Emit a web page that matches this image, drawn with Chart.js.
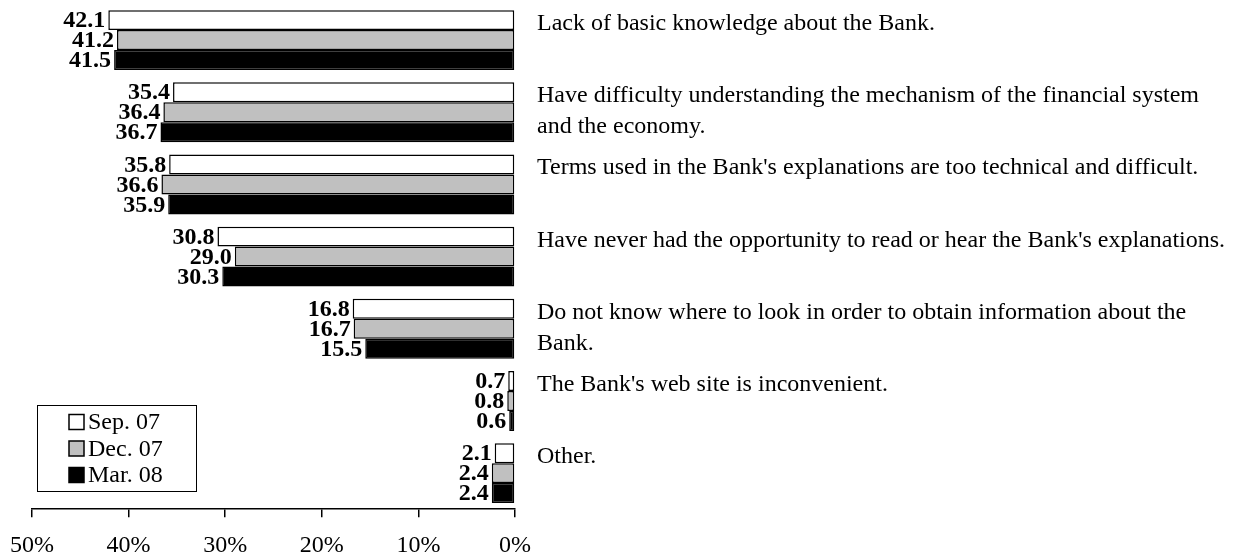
<!DOCTYPE html>
<html>
<head>
<meta charset="utf-8">
<script src="https://cdn.jsdelivr.net/npm/chart.js@4"></script>
<style>
  html, body { margin: 0; padding: 0; background: #fff; }
  #wrap { width: 1242px; height: 559px; position: relative; }
</style>
</head>
<body>
<div id="wrap"><canvas id="chart"></canvas></div>
<script>
const categories = [
  ['Lack of basic knowledge about the Bank.'],
  ['Have difficulty understanding the mechanism of the financial system', 'and the economy.'],
  ["Terms used in the Bank's explanations are too technical and difficult."],
  ["Have never had the opportunity to read or hear the Bank's explanations."],
  ['Do not know where to look in order to obtain information about the', 'Bank.'],
  ["The Bank's web site is inconvenient."],
  ['Other.']
];
const seriesNames = ['Sep. 07', 'Dec. 07', 'Mar. 08'];
const sep07 = [42.1, 35.4, 35.8, 30.8, 16.8, 0.7, 2.1];
const dec07 = [41.2, 36.4, 36.6, 29.0, 16.7, 0.8, 2.4];
const mar08 = [41.5, 36.7, 35.9, 30.3, 15.5, 0.6, 2.4];
const xTicks = [0, 10, 20, 30, 40, 50];

const serif = '"Liberation Serif", "Times New Roman", serif';

// bold numbers just left of each bar end
const valueLabels = {
  id: 'valueLabels',
  afterDatasetsDraw(chart) {
    const ctx = chart.ctx;
    ctx.save();
    ctx.font = 'bold 24px ' + serif;
    ctx.fillStyle = '#000';
    ctx.textAlign = 'right';
    ctx.textBaseline = 'middle';
    chart.data.datasets.forEach((ds, di) => {
      chart.getDatasetMeta(di).data.forEach((bar, i) => {
        ctx.fillText(ds.data[i].toFixed(1), bar.x - 3, bar.y + 1);
      });
    });
    ctx.restore();
  }
};

// category text to the right of the plot
const categoryLabels = {
  id: 'categoryLabels',
  afterDraw(chart) {
    const ctx = chart.ctx;
    const y = chart.scales.y;
    ctx.save();
    ctx.font = '24px ' + serif;
    ctx.fillStyle = '#000';
    ctx.textAlign = 'left';
    ctx.textBaseline = 'alphabetic';
    chart.data.labels.forEach((lines, i) => {
      const top = y.getPixelForValue(i) - 10;
      lines.forEach((line, k) => {
        ctx.fillText(line, chart.chartArea.right + 22, top + k * 31);
      });
    });
    ctx.restore();
  }
};

// boxed legend in the lower left
const boxLegend = {
  id: 'boxLegend',
  afterDraw(chart) {
    const ctx = chart.ctx;
    ctx.save();
    ctx.lineWidth = 1;
    ctx.strokeStyle = '#000';
    ctx.strokeRect(37.5, 405.5, 159, 86);
    ctx.font = '24px ' + serif;
    ctx.textBaseline = 'middle';
    chart.data.datasets.forEach((ds, i) => {
      const cy = 422 + i * 26.5;
      ctx.fillStyle = ds.backgroundColor;
      ctx.fillRect(69, cy - 7.5, 15, 15);
      ctx.lineWidth = 1.5;
      ctx.strokeRect(69, cy - 7.5, 15, 15);
      ctx.fillStyle = '#000';
      ctx.fillText(ds.label, 88, cy + 1);
    });
    ctx.restore();
  }
};

const barStyle = { borderColor: '#000', borderWidth: 1.5, borderSkipped: false, categoryPercentage: 0.83, barPercentage: 1.0 };

new Chart(document.getElementById('chart'), {
  type: 'bar',
  data: {
    labels: categories,
    datasets: [
      { label: seriesNames[0], data: sep07, backgroundColor: '#ffffff', ...barStyle },
      { label: seriesNames[1], data: dec07, backgroundColor: '#c0c0c0', ...barStyle },
      { label: seriesNames[2], data: mar08, backgroundColor: '#000000', ...barStyle }
    ]
  },
  options: {
    indexAxis: 'y',
    responsive: true,
    maintainAspectRatio: false,
    animation: false,
    layout: { padding: { left: 32, right: 727, top: 4, bottom: -15 } },
    plugins: {
      legend: { display: false },
      tooltip: { enabled: false }
    },
    scales: {
      x: {
        reverse: true,
        min: 0,
        max: 50,
        afterBuildTicks(scale) { scale.ticks = xTicks.map(v => ({ value: v })); },
        grid: { drawOnChartArea: false, drawTicks: true, tickLength: 8, color: '#000', lineWidth: 1.5 },
        border: { display: true, color: '#000', width: 1.5 },
        ticks: {
          color: '#000',
          padding: 14,
          maxRotation: 0,
          font: { family: serif, size: 24 },
          callback: v => v + '%'
        }
      },
      y: {
        display: false,
        offset: true
      }
    }
  },
  plugins: [valueLabels, categoryLabels, boxLegend]
});
</script>
</body>
</html>
